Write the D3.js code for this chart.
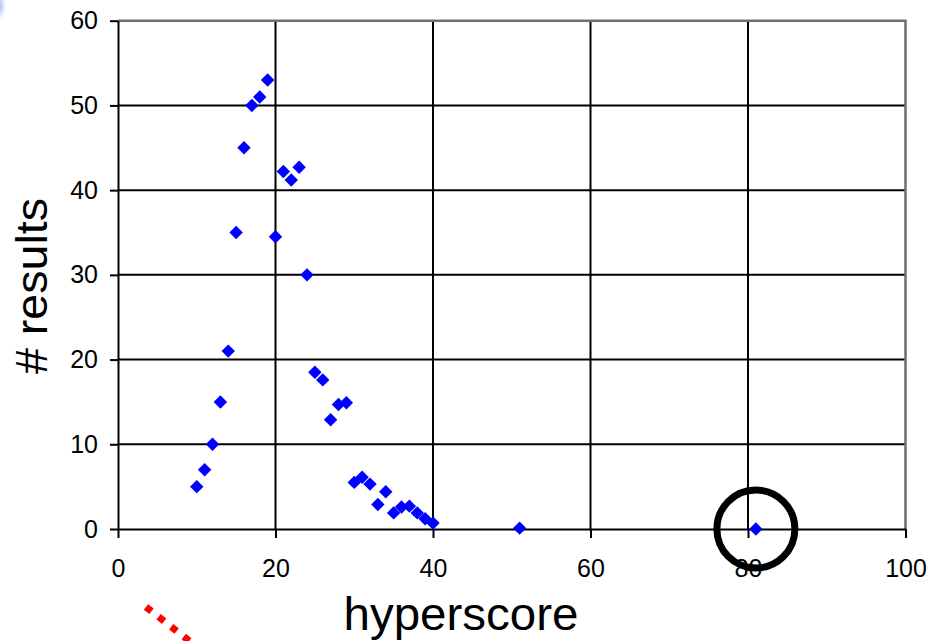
<!DOCTYPE html>
<html>
<head>
<meta charset="utf-8">
<script src="https://cdn.jsdelivr.net/npm/d3@7"></script>
<style>
  html, body { margin: 0; padding: 0; background: #fff; }
  svg { display: block; }
</style>
</head>
<body>
<svg id="chart" width="931" height="641"></svg>
<script>
// hyperscore histogram values
const hyperscore = [10, 11, 12, 13, 14, 15, 16, 17, 18, 19, 20, 21, 22, 23, 24, 25, 26, 27, 28, 29,
                    30, 31, 32, 33, 34, 35, 36, 37, 38, 39, 40, 51, 81];
const results = [5, 7, 10, 15, 21, 35, 45, 50, 51, 53, 34.5, 42.2, 41.2, 42.7, 30, 18.5, 17.6, 12.9, 14.7, 14.9,
                 5.5, 6.1, 5.3, 2.9, 4.4, 1.9, 2.6, 2.7, 1.9, 1.2, 0.7, 0.1, 0];
const xTicks = [0, 20, 40, 60, 80, 100];
const yTicks = [0, 10, 20, 30, 40, 50, 60];
const highlighted = 81;

const svg = d3.select("#chart");
const plotLeft = 118, plotRight = 905.5, plotTop = 20.7, plotBottom = 529;
const font = "'Liberation Sans', Arial, sans-serif";

const x = d3.scaleLinear().domain([0, 100]).range([plotLeft, plotRight]);
const y = d3.scaleLinear().domain([0, 60]).range([plotBottom, plotTop]);

// small blue glow at the top-left corner
const defs = svg.append("defs");
const glow = defs.append("radialGradient").attr("id", "glow");
glow.append("stop").attr("offset", "0%").attr("stop-color", "#6a8cff").attr("stop-opacity", 0.7);
glow.append("stop").attr("offset", "100%").attr("stop-color", "#6a8cff").attr("stop-opacity", 0);
svg.append("ellipse").attr("cx", -2).attr("cy", 6).attr("rx", 8).attr("ry", 14).attr("fill", "url(#glow)");

// grid lines
svg.append("g")
  .selectAll("line")
  .data(yTicks.filter(d => d > 0 && d < 60))
  .join("line")
    .attr("x1", plotLeft).attr("x2", plotRight)
    .attr("y1", d => y(d)).attr("y2", d => y(d))
    .attr("stroke", "#000").attr("stroke-width", 2);

svg.append("g")
  .selectAll("line")
  .data(xTicks.filter(d => d > 0 && d < 100))
  .join("line")
    .attr("x1", d => x(d)).attr("x2", d => x(d))
    .attr("y1", plotTop).attr("y2", plotBottom)
    .attr("stroke", "#000").attr("stroke-width", 2);

// plot border (top and right, grey)
svg.append("path")
  .attr("d", `M${plotLeft},${plotTop}H${plotRight}V${plotBottom}`)
  .attr("fill", "none").attr("stroke", "#6e6e6e").attr("stroke-width", 2.5);

// axes
const xAxis = svg.append("g")
  .attr("transform", `translate(0,${plotBottom})`)
  .call(d3.axisBottom(x).tickValues(xTicks).tickSizeInner(9).tickSizeOuter(0).tickPadding(21));

const yAxis = svg.append("g")
  .attr("transform", `translate(${plotLeft},0)`)
  .call(d3.axisLeft(y).tickValues(yTicks).tickSizeInner(8).tickSizeOuter(0).tickPadding(12));

[xAxis, yAxis].forEach(g => {
  g.select(".domain").attr("stroke", "#000").attr("stroke-width", 2);
  g.selectAll(".tick line").attr("stroke", "#000").attr("stroke-width", 2);
  g.selectAll(".tick text")
    .attr("fill", "#000")
    .style("font-family", font)
    .style("font-size", "25px");
});
xAxis.selectAll(".tick text").attr("dy", "0.71em");

// data points
svg.append("g")
  .selectAll("path")
  .data(hyperscore.map((h, i) => ({ h, r: results[i] })))
  .join("path")
    .attr("d", d3.symbol().type(d3.symbolDiamond2).size(115))
    .attr("transform", d => `translate(${x(d.h)},${y(d.r)})`)
    .attr("fill", "#0000ff");

// circle around the outlier
svg.append("circle")
  .attr("cx", x(highlighted)).attr("cy", y(0))
  .attr("r", 39)
  .attr("fill", "none").attr("stroke", "#000").attr("stroke-width", 7);

// red dotted arrow tail entering from bottom-left
svg.append("line")
  .attr("x1", 146).attr("y1", 607).attr("x2", 206).attr("y2", 654)
  .attr("stroke", "#ff0000").attr("stroke-width", 7)
  .attr("stroke-dasharray", "7,9");

// axis titles
svg.append("text")
  .attr("x", 461).attr("y", 630)
  .attr("text-anchor", "middle")
  .attr("textLength", 235).attr("lengthAdjust", "spacingAndGlyphs")
  .style("font-family", font)
  .style("font-size", "46px")
  .text("hyperscore");

svg.append("text")
  .attr("transform", "translate(47,286) rotate(-90)")
  .attr("text-anchor", "middle")
  .attr("textLength", 176).attr("lengthAdjust", "spacingAndGlyphs")
  .style("font-family", font)
  .style("font-size", "44px")
  .text("# results");
</script>
</body>
</html>
